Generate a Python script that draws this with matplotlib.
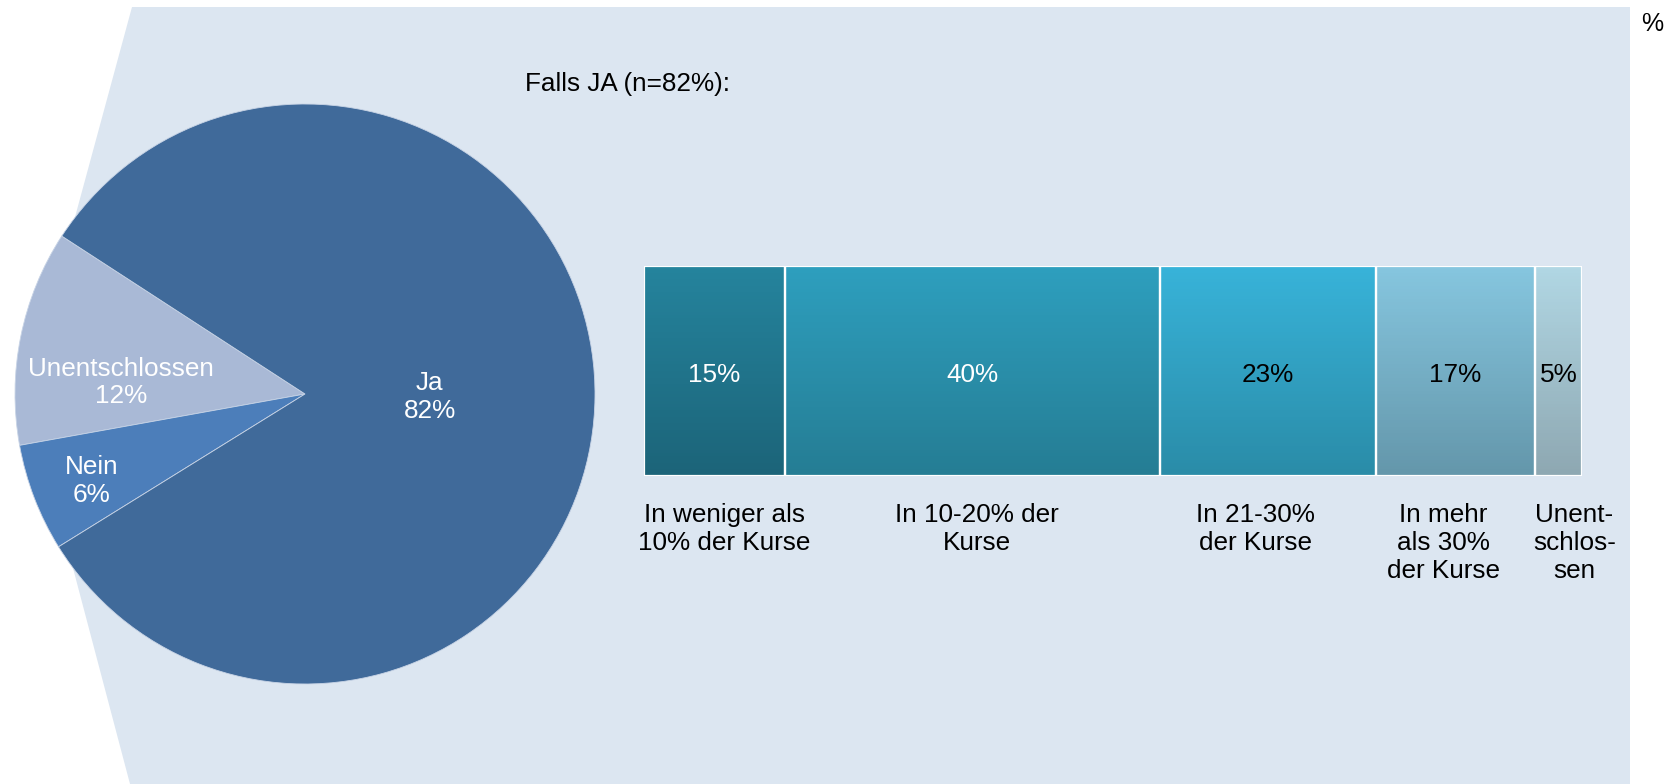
import numpy as np
import matplotlib.pyplot as plt
from matplotlib.patches import Polygon
from matplotlib.colors import to_rgb
import matplotlib.patheffects as pe

plt.rcParams['font.family'] = ['Liberation Sans', 'DejaVu Sans']

# pie data
pie_labels = ['Unentschlossen', 'Nein', 'Ja']
pie_values = [12, 6, 82]
pie_colors = ['#A9B9D6', '#4C7EBA', '#406A9A']

# bar data (Falls JA)
bar_values = [15, 40, 23, 17, 5]
bar_labels = ['In weniger als\n10% der Kurse', 'In 10-20% der\nKurse', 'In 21-30%\nder Kurse',
              'In mehr\nals 30%\nder Kurse', 'Unent-\nschlos-\nsen']
bar_top = ['#25849D', '#2E9FBE', '#38B3D9', '#86C6DF', '#B1D7E4']
bar_bottom = ['#1C6479', '#257D94', '#2A8CA8', '#6497AB', '#8EA8B2']
bar_textcol = ['white', 'white', 'black', 'black', 'black']
label_shift = [10, 5, -12, -12, 16]   # pixel nudge of the category labels

W, H = 1677, 784
fs = 18.8
fig = plt.figure(figsize=(W / 100, H / 100), dpi=100)

# background shape
bg = fig.add_axes([0, 0, 1, 1])
bg.set_xlim(0, W)
bg.set_ylim(H, 0)
bg.axis('off')
bg.add_patch(Polygon([(132, 7), (1630, 7), (1630, H), (130, H), (27, 394)],
                     closed=True, facecolor='#DCE6F1', edgecolor='none'))
bg.text(1652, 24, '%', fontsize=18, ha='center', va='center')
bg.text(525, 84, 'Falls JA (n=82%):', fontsize=fs, ha='left', va='center')

# pie
cx, cy, r = 305, 394, 290
axp = fig.add_axes([(cx - r) / W, (H - cy - r) / H, 2 * r / W, 2 * r / H])
wedges, _ = axp.pie(pie_values, colors=pie_colors, startangle=147, counterclock=True,
                    wedgeprops=dict(edgecolor='#c8d4e6', linewidth=0.6))
axp.set_xlim(-1, 1)
axp.set_ylim(-1, 1)
label_pos = [(-0.635, 0.04), (-0.735, -0.30), (0.43, -0.01)]
for lab, v, (x, y) in zip(pie_labels, pie_values, label_pos):
    axp.text(x, y, f'{lab}\n{v}%', color='white', fontsize=fs, ha='center', va='center')

# stacked bar
bx0, bx1, by0, by1 = 644, 1582, 266, 476
axb = fig.add_axes([bx0 / W, (H - by1) / H, (bx1 - bx0) / W, (by1 - by0) / H])
lefts = np.concatenate([[0], np.cumsum(bar_values)[:-1]])
bars = axb.barh(0, bar_values, left=lefts, height=1, color=bar_bottom, edgecolor='none')
for b in bars:
    b.set_path_effects([pe.SimplePatchShadow(offset=(-1, -4), shadow_rgbFace='#7d8590', alpha=0.45),
                        pe.Normal()])
for b, ct, cb in zip(bars, bar_top, bar_bottom):
    t = np.linspace(0, 1, 64)[:, None]
    grad = (1 - t) * np.array(to_rgb(ct)) + t * np.array(to_rgb(cb))
    img = axb.imshow(grad[:, None, :], extent=[b.get_x(), b.get_x() + b.get_width(), -0.5, 0.5],
                     origin='upper', aspect='auto', zorder=2)
    img.set_clip_path(b)
axb.barh(0, bar_values, left=lefts, height=1, fill=False, edgecolor='white', linewidth=1.6, zorder=3)
axb.set_xlim(0, sum(bar_values))
axb.set_ylim(-0.5, 0.5)
axb.axis('off')
for b, v, lab, tc, dx in zip(bars, bar_values, bar_labels, bar_textcol, label_shift):
    xc = b.get_x() + b.get_width() / 2
    axb.text(xc, -0.02, f'{v}%', color=tc, fontsize=fs, ha='center', va='center', zorder=4)
    axb.annotate(lab, xy=(xc, -0.5), xytext=(dx, -27), textcoords='offset pixels',
                 fontsize=fs, ha='center', va='top', linespacing=1.2, annotation_clip=False)

fig.savefig('out.png', dpi=100)
